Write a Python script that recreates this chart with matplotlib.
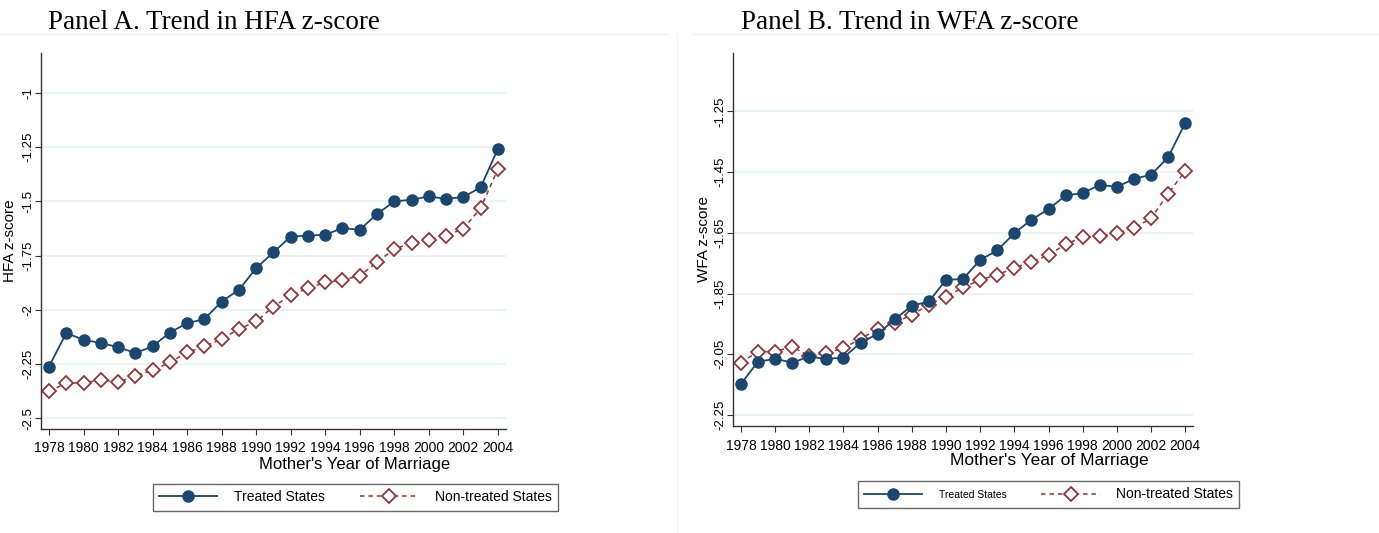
"""Trend in HFA and WFA z-scores by mother's year of marriage (two panels)."""

import matplotlib
matplotlib.use("Agg")
import matplotlib.pyplot as plt
from matplotlib.lines import Line2D


YEARS = list(range(1978, 2005))

HFA_TREATED = [-2.262, -2.108, -2.138, -2.154, -2.172, -2.200, -2.169, -2.105, -2.062,
               -2.043, -1.962, -1.908, -1.808, -1.735, -1.662, -1.658, -1.654, -1.623,
               -1.631, -1.558, -1.500, -1.492, -1.477, -1.488, -1.480, -1.435, -1.257]
HFA_NONTREATED = [-2.377, -2.338, -2.338, -2.323, -2.335, -2.305, -2.280, -2.243, -2.197,
                  -2.169, -2.135, -2.089, -2.054, -1.985, -1.934, -1.900, -1.874, -1.862,
                  -1.843, -1.780, -1.720, -1.692, -1.677, -1.658, -1.626, -1.531, -1.351]

WFA_TREATED = [-2.148, -2.074, -2.065, -2.077, -2.058, -2.065, -2.061, -2.012, -1.983,
               -1.935, -1.890, -1.876, -1.805, -1.802, -1.739, -1.708, -1.651, -1.607,
               -1.572, -1.527, -1.519, -1.492, -1.499, -1.472, -1.459, -1.401, -1.288]
WFA_NONTREATED = [-2.077, -2.041, -2.041, -2.025, -2.056, -2.045, -2.030, -1.999, -1.967,
                  -1.946, -1.920, -1.887, -1.860, -1.830, -1.805, -1.788, -1.766, -1.745,
                  -1.724, -1.687, -1.665, -1.662, -1.651, -1.635, -1.602, -1.521, -1.446]

HFA_TICKS = [-1, -1.25, -1.5, -1.75, -2, -2.25, -2.5]
HFA_TICK_LABELS = ["-1", "-1.25", "-1.5", "-1.75", "-2", "-2.25", "-2.5"]
WFA_TICKS = [-1.25, -1.45, -1.65, -1.85, -2.05, -2.25]
WFA_TICK_LABELS = ["-1.25", "-1.45", "-1.65", "-1.85", "-2.05", "-2.25"]
X_TICKS = list(range(1978, 2005, 2))

NAVY = "#1a476f"
MAROON = "#90353b"
GRID = "#e8f0f1"
SANS = ["Liberation Sans", "DejaVu Sans"]
SERIF = ["Liberation Serif", "DejaVu Serif"]


def draw_panel(fig, rect, treated, nontreated, ticks, tick_labels, ylim, ylabel, label_x):
    ax = fig.add_axes(rect)
    ax.plot(YEARS, treated, color=NAVY, linewidth=1.3, marker="o", markersize=8,
            markerfacecolor=NAVY, markeredgecolor=NAVY, label="Treated States", zorder=3)
    ax.plot(YEARS, nontreated, color=MAROON, linewidth=1.1, linestyle=(0, (3, 2.5)),
            marker="D", markersize=7, markerfacecolor="white", markeredgecolor=MAROON,
            markeredgewidth=1.3, label="Non-treated States", zorder=2)

    ax.set_xlim(1977.52, 2004.47)
    ax.set_ylim(*ylim)
    ax.set_xticks(X_TICKS)
    ax.set_xticklabels([str(y) for y in X_TICKS], fontsize=10, family=SANS)
    ax.set_yticks(ticks)
    ax.set_yticklabels(tick_labels, fontsize=9.5, family=SANS, rotation=90, va="center")
    ax.tick_params(axis="both", length=4.5, width=0.8, color="#333333")
    ax.tick_params(axis="x", pad=4.5)
    ax.tick_params(axis="y", pad=0.3)
    ax.yaxis.grid(True, color=GRID, linewidth=1.2)
    ax.set_axisbelow(True)
    for side in ("top", "right"):
        ax.spines[side].set_visible(False)
    for side in ("left", "bottom"):
        ax.spines[side].set_color("#333333")
        ax.spines[side].set_linewidth(1.0)
    ax.set_ylabel(ylabel, fontsize=11, family=SANS)
    ax.yaxis.set_label_coords(label_x, 0.5)
    return ax


def main():
    fig = plt.figure(figsize=(13.79, 5.33), dpi=100)
    W, H = 1379.0, 533.0

    # faint graph-region borders
    fig.add_artist(Line2D([0, 668 / W], [1 - 34 / H, 1 - 34 / H], color="#f2f2f2", linewidth=1))
    fig.add_artist(Line2D([693 / W, 1], [1 - 34 / H, 1 - 34 / H], color="#f2f2f2", linewidth=1))
    fig.add_artist(Line2D([677 / W, 677 / W], [0, 1 - 34 / H], color="#f4f4f4", linewidth=1))

    ax_a = draw_panel(fig, [40.7 / W, 1 - 428.5 / H, 465.3 / W, 375.5 / H],
                      HFA_TREATED, HFA_NONTREATED, HFA_TICKS, HFA_TICK_LABELS,
                      (-2.548, -0.815), "HFA z-score", -0.050)
    ax_b = draw_panel(fig, [732.7 / W, 1 - 426 / H, 460.6 / W, 373 / H],
                      WFA_TREATED, WFA_NONTREATED, WFA_TICKS, WFA_TICK_LABELS,
                      (-2.286, -1.058), "WFA z-score", -0.048)

    fig.text(48 / W, 1 - 22 / H, "Panel A. Trend in HFA z-score", fontsize=19.5,
             family=SERIF, va="center", ha="left")
    fig.text(741 / W, 1 - 22 / H, "Panel B. Trend in WFA z-score", fontsize=19.5,
             family=SERIF, va="center", ha="left")

    fig.text(355 / W, 1 - 464 / H, "Mother's Year of Marriage", fontsize=12,
             family=SANS, ha="center", va="center")
    fig.text(1049 / W, 1 - 461 / H, "Mother's Year of Marriage", fontsize=12.5,
             family=SANS, ha="center", va="center")

    # legends
    for ax, bbox, sizes in ((ax_a, (153, 482.5, 404.5, 29.5), (10, 10)),
                            (ax_b, (857, 479, 383, 31), (7.5, 10))):
        x0, y0, w, h = bbox
        handles, labels = ax.get_legend_handles_labels()
        leg = fig.legend(handles, labels, loc="center",
                         bbox_to_anchor=((x0 + w / 2) / W, 1 - (y0 + h / 2) / H),
                         ncol=2, frameon=True, fancybox=False, handlelength=4.2,
                         columnspacing=2.5, handletextpad=1.2, borderpad=0.45,
                         prop={"family": SANS, "size": 10})
        leg.get_frame().set_edgecolor("#444444")
        leg.get_frame().set_linewidth(1.0)
        for text, size in zip(leg.get_texts(), sizes):
            text.set_fontsize(size)

    fig.savefig("out.png", dpi=100, facecolor="white")
    plt.close(fig)


if __name__ == "__main__":
    main()
